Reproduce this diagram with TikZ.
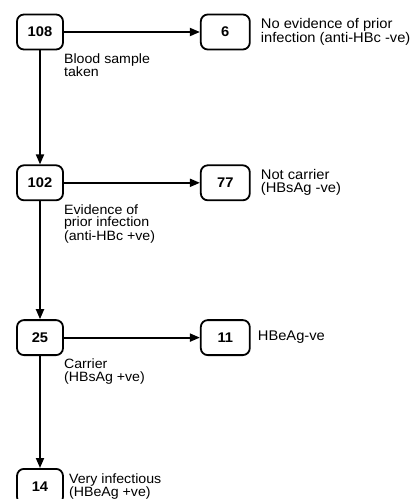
\documentclass[tikz,border=0pt]{standalone}
\usepackage{fontspec}
\setmainfont[FakeStretch=1.05]{Liberation Sans}
\usetikzlibrary{positioning,arrows.meta}

\begin{document}
\begin{tikzpicture}[x=1pt, y=-1pt,
    count/.style={draw, line width=1.8pt, rounded corners=7pt, minimum height=35pt,
        inner sep=0pt, font=\fontsize{14}{12}\selectfont\bfseries},
    countL/.style={count, minimum width=46pt},
    countR/.style={count, minimum width=49pt},
    note/.style={align=left, inner sep=0pt, font=\fontsize{14}{13}\selectfont},
    subnote/.style={note, font=\fontsize{13.5}{12.5}\selectfont},
    flow/.style={-{Triangle[length=10pt,width=8pt]}, line width=1.8pt}]
    \useasboundingbox (0,0) rectangle (412,499);

    % main column
    \node[countL] (n108) at (40,32) {108};
    \node[countL, below=114pt of n108] (n102) {102};
    \node[countL, below=118pt of n102] (n25) {25};
    \node[countL, below=112pt of n25] (n14) {14};

    % side branches
    \node[countR, right=136pt of n108] (n6) {6};
    \node[countR, right=136pt of n102] (n77) {77};
    \node[countR, right=136pt of n25] (n11) {11};

    \draw[flow] (n108) -- (n102);
    \draw[flow] (n102) -- (n25);
    \draw[flow] (n25) -- (n14);
    \draw[flow] (n108) -- (n6);
    \draw[flow] (n102) -- (n77);
    \draw[flow] (n25) -- (n11);

    % labels
    \node[subnote, anchor=north west] (lblood) at ([yshift=-3pt]n108.south east) {Blood sample\\taken};
    \node[subnote, anchor=north west] (lprior) at ([yshift=-3pt]n102.south east) {Evidence of\\prior infection\\(anti-HBc +ve)};
    \node[subnote, anchor=north west] (lcarrier) at ([yshift=-3pt]n25.south east) {Carrier\\(HBsAg +ve)};
    \node[note, right=10pt of n6] (lnone) {No evidence of prior\\infection (anti-HBc -ve)};
    \node[note, right=10pt of n77] (lnot) {Not carrier\\(HBsAg -ve)};
    \node[note, right=7pt of n11] (lneg) {HBeAg-ve};
    \node[subnote, right=5pt of n14] (lvery) {Very infectious\\(HBeAg +ve)};
\end{tikzpicture}
\end{document}
